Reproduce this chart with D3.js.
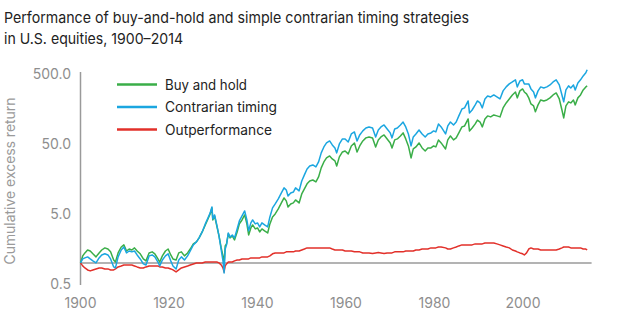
<!DOCTYPE html>
<html><head><meta charset="utf-8">
<script src="https://cdn.jsdelivr.net/npm/d3@7"></script>
<style>
html,body{margin:0;padding:0;background:#fff;}
svg{display:block;font-family:Inter,"Open Sans",sans-serif;}
</style></head>
<body>
<svg id="chart" width="620" height="324"></svg>
<script>
const titleLines = ["Performance of buy-and-hold and simple contrarian timing strategies", "in U.S. equities, 1900\u20132014"];
const yLabel = "Cumulative excess return";
const seriesNames = ["Buy and hold", "Contrarian timing", "Outperformance"];
const seriesColors = ["#3aae48", "#1ba6e0", "#e2302a"];
const yTicks = [0.5, 5, 50, 500];
const yTickLabels = ["0.5", "5.0", "50.0", "500.0"];
const xTicks = [1900, 1920, 1940, 1960, 1980, 2000];

const dates = [
 1900.0,1900.5,1901.0,1901.6,1902.2,1902.8,1903.5,1904.2,1904.8,
 1905.5,1906.2,1906.8,1907.5,1907.9,1908.5,1909.2,1909.8,
 1910.4,1911.0,1911.6,1912.2,1912.8,1913.5,1914.2,1914.8,
 1915.5,1916.2,1916.8,1917.5,1917.9,1918.5,1919.2,1919.8,
 1920.4,1920.9,1921.6,1922.2,1922.8,1923.5,1924.2,1924.8,
 1925.5,1926.2,1926.8,1927.5,1928.2,1928.8,1929.3,1929.7,1929.9,
 1930.3,1930.8,1931.3,1931.8,1932.2,1932.45,1932.7,1933.0,1933.4,1933.8,1934.3,1934.8,
 1935.4,1935.9,1936.5,1937.1,1937.6,1938.0,1938.5,1938.9,1939.5,
 1940.0,1940.5,1941.0,1941.6,1942.3,1942.8,1943.4,1944.0,1944.7,
 1945.4,1946.0,1946.5,1946.9,1947.5,1948.1,1948.6,1949.4,
 1950.0,1950.6,1951.2,1951.8,1952.5,1953.2,1953.8,1954.4,
 1955.0,1955.6,1956.3,1956.9,1957.5,1957.9,1958.5,1959.2,1959.8,
 1960.5,1961.2,1961.9,1962.5,1963.1,1963.8,1964.5,
 1965.2,1966.0,1966.7,1967.3,1967.9,1968.6,1969.3,
 1970.0,1970.4,1971.0,1971.6,1972.3,1972.9,1973.5,1974.1,1974.7,
 1975.2,1975.8,1976.5,1977.2,1977.9,1978.5,1979.2,1979.8,
 1980.3,1980.9,1981.5,1982.5,1983.0,1983.6,1984.3,1984.9,
 1985.5,1986.2,1986.8,1987.6,1987.9,1988.5,1989.2,1989.7,
 1990.3,1990.8,1991.4,1992.0,1992.7,1993.4,1994.1,1994.8,
 1995.5,1996.2,1996.9,1997.6,1998.3,1998.7,1999.3,1999.9,
 2000.3,2000.8,2001.3,2001.8,2002.4,2002.8,2003.4,2004.0,2004.7,
 2005.4,2006.1,2006.8,2007.5,2008.2,2008.8,2009.2,2009.7,
 2010.3,2010.8,2011.4,2011.8,2012.4,2013.0,2013.6,2014.2,2014.5
];

const buyHold = [
 1.00,1.26,1.39,1.53,1.48,1.35,1.22,1.39,1.53,
 1.64,1.58,1.44,1.10,1.03,1.39,1.69,1.81,
 1.48,1.58,1.53,1.64,1.48,1.35,1.14,1.07,
 1.39,1.44,1.35,1.14,1.03,1.26,1.48,1.58,
 1.30,1.14,1.10,1.39,1.44,1.26,1.39,1.58,
 1.87,2.00,2.28,2.77,3.49,4.25,5.01,6.11,4.11,
 4.69,3.38,2.43,1.64,1.26,0.968,1.75,1.87,2.60,2.28,2.43,2.13,
 2.77,3.61,4.11,4.85,3.61,2.51,3.16,3.49,3.06,
 3.16,2.77,3.06,2.87,2.68,3.61,4.54,5.01,5.91,
 7.20,8.48,7.69,6.31,6.96,7.20,7.94,7.20,
 9.68,11.4,13.5,14.8,15.3,14.4,16.9,22.8,
 27.7,31.6,33.8,30.6,28.7,24.3,32.7,38.5,39.8,
 36.1,46.9,51.8,38.5,46.9,55.3,61.1,
 63.1,61.1,45.4,57.2,63.1,67.4,59.1,
 51.8,43.9,57.2,59.1,65.2,72.0,59.1,46.9,31.6,
 42.5,45.4,51.8,43.9,39.8,43.9,43.9,46.9,
 45.4,57.2,51.8,42.5,57.2,65.2,57.2,61.1,
 72.0,87.7,90.6,114,76.9,84.8,96.8,110,
 103,87.7,114,126,122,130,126,122,
 164,193,220,251,277,228,287,306,
 277,260,228,187,175,144,181,213,206,
 213,228,251,268,220,153,118,175,
 200,193,213,181,228,251,296,327,338
];

const contrarian = [
 1.00,1.14,1.18,1.22,1.14,1.07,1.00,1.18,1.30,
 1.35,1.30,1.14,0.877,0.848,1.22,1.53,1.69,
 1.39,1.48,1.44,1.48,1.30,1.14,0.968,0.936,
 1.26,1.30,1.22,1.03,0.906,1.10,1.26,1.35,
 1.07,0.906,0.821,1.10,1.22,1.10,1.26,1.48,
 1.81,2.00,2.28,2.77,3.61,4.39,5.18,6.31,4.25,
 4.85,3.49,2.43,1.53,1.07,0.720,1.58,1.81,2.68,2.35,2.51,2.28,
 3.06,3.98,4.69,5.53,4.11,2.87,3.73,4.11,3.61,
 3.73,3.27,3.73,3.49,3.27,4.54,6.11,6.96,8.21,
 10.0,11.8,11.0,9.06,10.0,10.3,11.8,10.7,
 14.8,18.1,22.0,24.3,25.1,23.5,27.7,37.3,
 45.4,51.8,55.3,48.5,43.9,37.3,50.1,59.1,59.1,
 53.5,69.6,74.4,55.3,67.4,76.9,84.8,
 87.7,84.8,63.1,79.4,87.7,93.6,82.1,
 72.0,61.1,82.1,84.8,93.6,103,87.7,69.6,46.9,
 63.1,69.6,79.4,69.6,63.1,69.6,72.0,76.9,
 74.4,96.8,87.7,69.6,90.6,103,93.6,103,
 126,158,164,206,139,153,181,206,
 193,164,220,243,235,251,235,220,
 287,327,361,385,413,327,398,413,
 361,361,361,306,277,228,287,327,316,
 327,349,385,413,349,251,200,296,
 338,316,349,296,373,413,469,520,575
];

const outperformance = [
 1.00,0.906,0.848,0.794,0.769,0.794,0.821,0.848,0.848,
 0.821,0.821,0.794,0.794,0.821,0.877,0.906,0.936,
 0.936,0.936,0.936,0.906,0.877,0.848,0.848,0.877,
 0.906,0.906,0.906,0.906,0.877,0.877,0.848,0.848,
 0.821,0.794,0.744,0.794,0.848,0.877,0.906,0.936,
 0.968,1.00,1.00,1.00,1.03,1.03,1.03,1.03,1.03,
 1.03,1.03,1.00,0.936,0.848,0.744,0.906,0.968,1.03,1.03,1.03,1.07,
 1.10,1.10,1.14,1.14,1.14,1.14,1.18,1.18,1.18,
 1.18,1.18,1.22,1.22,1.22,1.26,1.35,1.39,1.39,
 1.39,1.39,1.44,1.44,1.44,1.44,1.48,1.48,
 1.53,1.58,1.64,1.64,1.64,1.64,1.64,1.64,
 1.64,1.64,1.64,1.58,1.53,1.53,1.53,1.53,1.48,
 1.48,1.48,1.44,1.44,1.44,1.39,1.39,
 1.39,1.36,1.39,1.41,1.39,1.36,1.39,
 1.39,1.39,1.44,1.44,1.44,1.44,1.48,1.48,1.48,
 1.48,1.53,1.53,1.58,1.58,1.58,1.64,1.64,
 1.64,1.69,1.69,1.64,1.58,1.58,1.64,1.69,
 1.75,1.81,1.81,1.81,1.81,1.81,1.87,1.87,
 1.87,1.87,1.93,1.93,1.93,1.93,1.87,1.81,
 1.75,1.69,1.64,1.53,1.48,1.44,1.39,1.35,
 1.30,1.39,1.58,1.64,1.58,1.58,1.58,1.53,1.53,
 1.53,1.53,1.53,1.53,1.58,1.64,1.69,1.69,
 1.69,1.64,1.64,1.64,1.64,1.64,1.58,1.58,1.53
];

const svg = d3.select("#chart");
const x = d3.scaleLinear().domain([1900, 2000]).range([80.5, 523]);
const y = d3.scaleLog().domain([0.5, 500]).range([284, 74]);

// title
svg.selectAll("text.title").data(titleLines).join("text")
  .attr("class", "title")
  .attr("x", 4).attr("y", (d, i) => 23 + i * 20.5)
  .attr("font-size", 15).attr("fill", "#222")
  .attr("textLength", (d, i) => i === 0 ? 465 : 179)
  .attr("lengthAdjust", "spacingAndGlyphs")
  .text(d => d);

// y axis label
svg.append("text")
  .attr("transform", "translate(15,181) rotate(-90)")
  .attr("text-anchor", "middle")
  .attr("font-size", 14).attr("fill", "#9a9a9a")
  .attr("textLength", 167).attr("lengthAdjust", "spacingAndGlyphs")
  .text(yLabel);

// y axis line
svg.append("line")
  .attr("x1", x(1900)).attr("x2", x(1900))
  .attr("y1", y(500) - 2).attr("y2", y(0.5) + 1)
  .attr("stroke", "#9a9a9a").attr("stroke-width", 1.5);

// y tick labels
svg.selectAll("text.ytick").data(yTicks).join("text")
  .attr("class", "ytick")
  .attr("x", 71).attr("y", d => y(d) + 5)
  .attr("text-anchor", "end")
  .attr("font-size", 14).attr("fill", "#8e8e8e")
  .text((d, i) => yTickLabels[i]);

// x tick labels
svg.selectAll("text.xtick").data(xTicks).join("text")
  .attr("class", "xtick")
  .attr("x", d => x(d)).attr("y", 308)
  .attr("text-anchor", "middle")
  .attr("font-size", 14).attr("fill", "#8e8e8e")
  .text(d => d);

// baseline at 1
svg.append("line")
  .attr("x1", x(1900)).attr("x2", x(2015.5))
  .attr("y1", y(1)).attr("y2", y(1))
  .attr("stroke", "#9a9a9a").attr("stroke-width", 1.5);

const line = d3.line().x(d => x(d[0])).y(d => y(d[1]));
const allSeries = [buyHold, contrarian, outperformance];
[2, 0, 1].forEach(k => {
  const pts = dates.map((dt, i) => [dt, allSeries[k][i]]);
  svg.append("path").datum(pts)
    .attr("d", line)
    .attr("fill", "none")
    .attr("stroke", seriesColors[k])
    .attr("stroke-width", 1.5)
    .attr("stroke-linejoin", "round");
});

// legend
const legendY = [84.5, 107, 129.5];
const legendW = [82, 112, 107];
seriesNames.forEach((name, i) => {
  svg.append("line")
    .attr("x1", 117).attr("x2", 157)
    .attr("y1", legendY[i]).attr("y2", legendY[i])
    .attr("stroke", seriesColors[i]).attr("stroke-width", 2.5);
  svg.append("text")
    .attr("x", 165).attr("y", legendY[i] + 5)
    .attr("font-size", 14).attr("fill", "#222")
    .attr("textLength", legendW[i]).attr("lengthAdjust", "spacingAndGlyphs")
    .text(name);
});
</script>
</body></html>
